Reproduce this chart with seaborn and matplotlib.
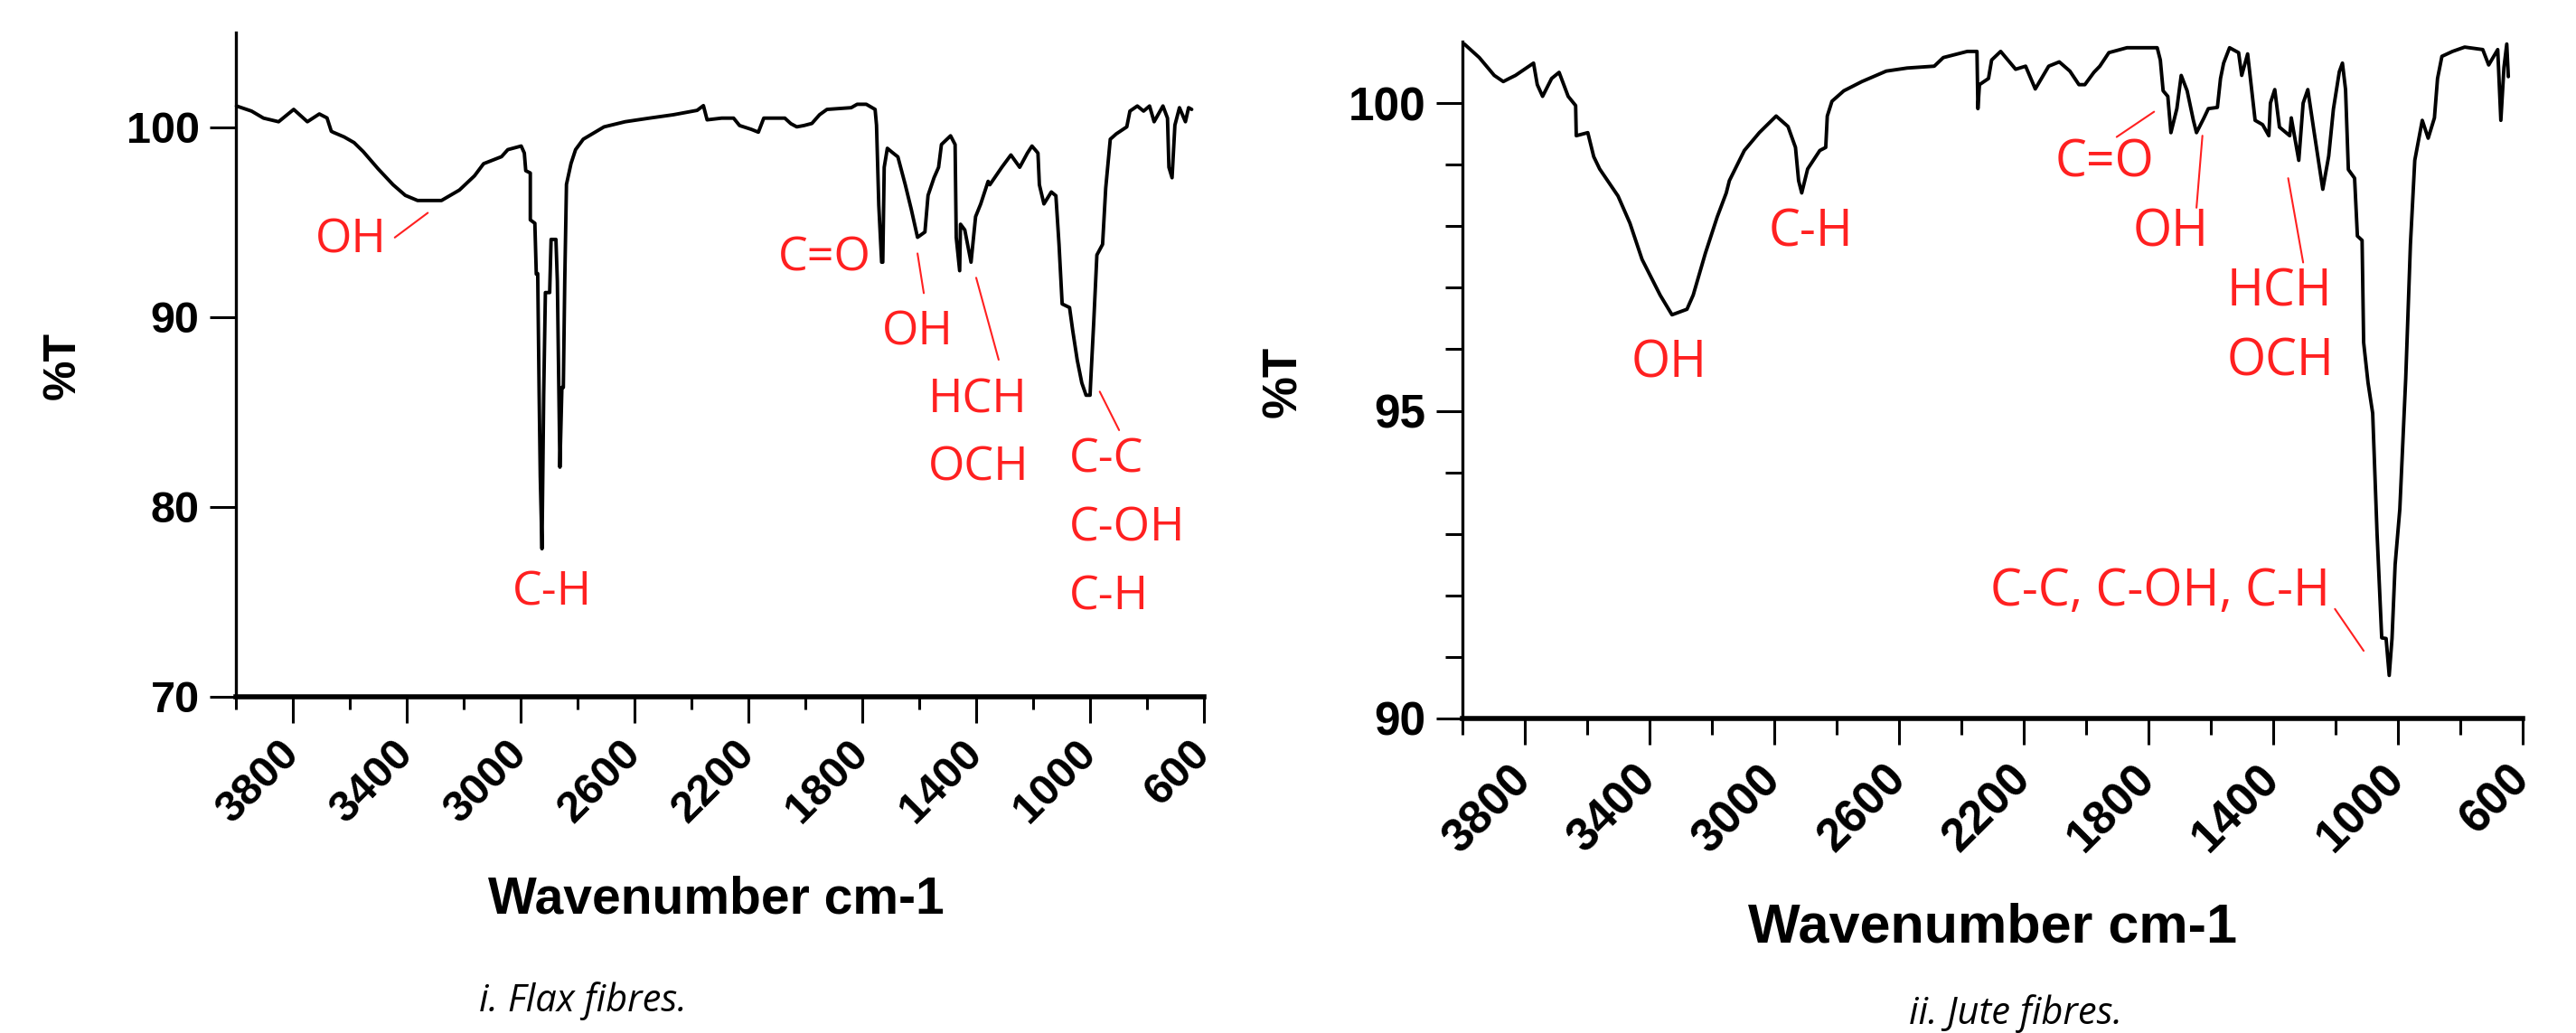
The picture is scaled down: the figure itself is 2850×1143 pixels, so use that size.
"""
FTIR spectra of flax and jute fibres - redrawn
"""
import numpy as np
import pandas as pd
import matplotlib
matplotlib.use('Agg')
import matplotlib.pyplot as plt
import seaborn as sns

sns.set_theme(style='ticks')
plt.rcParams['font.family'] = ['Liberation Sans', 'DejaVu Sans']
plt.rcParams['text.color'] = 'black'
plt.rcParams['axes.labelcolor'] = 'black'
plt.rcParams['axes.edgecolor'] = 'black'
plt.rcParams['xtick.color'] = 'black'
plt.rcParams['ytick.color'] = 'black'

# ============================================================
# data (wavenumber cm-1, %T)
# ============================================================
flax_wn = [3998, 3945, 3903, 3850, 3797, 3749, 3707, 3680, 3665, 3659, 3620, 3585, 3553, 3500,
           3448, 3405, 3362, 3278, 3215, 3162, 3130, 3067, 3045, 2998, 2987, 2982, 2966, 2966,
           2950, 2945, 2940, 2935, 2931, 2925, 2919, 2913, 2898, 2893, 2876, 2871, 2862, 2855,
           2850, 2845, 2839, 2823, 2807, 2780, 2707, 2633, 2548, 2463, 2380, 2358, 2345, 2294,
           2252, 2231, 2190, 2165, 2146, 2072, 2051, 2030, 2005, 1977, 1950, 1924, 1839, 1818,
           1786, 1755, 1750, 1742, 1732, 1728, 1723, 1712, 1696, 1675, 1649, 1628, 1606, 1580,
           1569, 1548, 1532, 1522, 1490, 1474, 1470, 1458, 1455, 1440, 1418, 1402, 1384, 1358,
           1352, 1310, 1278, 1247, 1220, 1204, 1183, 1178, 1162, 1136, 1120, 1109, 1098, 1072,
           1061, 1045, 1029, 1014, 1000, 998, 987, 976, 956, 945, 929, 908, 871, 860,
           834, 812, 791, 775, 744, 728, 723, 712, 702, 686, 665, 654, 643]
flax_t = [101.13, 100.86, 100.49, 100.30, 100.95, 100.30, 100.71, 100.5, 99.8, 99.75, 99.5, 99.20, 98.73, 97.81,
          96.98, 96.42, 96.15, 96.15, 96.70, 97.45, 98.09, 98.46, 98.83, 99.02, 98.65, 97.72, 97.6, 95.13,
          94.95, 92.27, 92.3, 86.0, 81.6, 77.8, 85.9, 91.3, 91.3, 94.1, 94.1, 91.9, 82.1, 86.3,
          86.3, 91.9, 97.0, 98.1, 98.83, 99.38, 100.03, 100.30, 100.49, 100.67, 100.9, 101.15, 100.4, 100.49,
          100.49, 100.1, 99.9, 99.75, 100.49, 100.49, 100.2, 100.03, 100.1, 100.21, 100.67, 100.95, 101.04, 101.22,
          101.22, 100.95, 100.12, 95.9, 92.9, 92.9, 97.9, 98.9, 98.7, 98.45, 96.98, 95.69, 94.21, 94.49,
          96.42, 97.35, 97.9, 99.1, 99.56, 99.1, 94.2, 92.45, 94.9, 94.6, 92.9, 95.3, 95.97, 97.16,
          96.98, 97.9, 98.55, 97.9, 98.65, 99.02, 98.65, 96.98, 95.97, 96.6, 96.4, 93.84, 90.7, 90.51,
          89.31, 87.74, 86.54, 85.89, 85.89, 86.54, 89.77, 93.28, 93.84, 96.8, 99.38, 99.66, 100.03, 100.86,
          101.13, 100.86, 101.13, 100.3, 101.13, 100.49, 97.9, 97.35, 100.12, 101.04, 100.3, 101.04, 100.95]

jute_wn = [3994, 3946, 3898, 3869, 3850, 3830, 3801, 3772, 3760, 3743, 3714, 3690, 3661, 3637, 3635,
           3598, 3579, 3560, 3501, 3463, 3424, 3366, 3328, 3280, 3260, 3221, 3183, 3154, 3144, 3096,
           3048, 2994, 2956, 2932, 2922, 2912, 2893, 2854, 2835, 2830, 2815, 2777, 2719, 2641, 2574,
           2487, 2458, 2381, 2350, 2347, 2342, 2313, 2303, 2274, 2226, 2194, 2163, 2120, 2086, 2052,
           2023, 2004, 1975, 1956, 1927, 1869, 1772, 1762, 1753, 1738, 1728, 1709, 1695, 1676, 1656,
           1646, 1622, 1608, 1579, 1569, 1559, 1540, 1511, 1501, 1482, 1458, 1434, 1414, 1409, 1395,
           1380, 1347, 1342, 1318, 1304, 1289, 1270, 1241, 1222, 1207, 1188, 1178, 1168, 1159, 1139,
           1130, 1115, 1110, 1096, 1081, 1067, 1052, 1038, 1028, 1019, 1009, 994, 975, 960, 946,
           922, 903, 883, 873, 859, 825, 786, 728, 709, 680, 670, 660, 651, 646]
jute_t = [100.96, 100.74, 100.45, 100.35, 100.4, 100.45, 100.55, 100.65, 100.3, 100.11, 100.4, 100.5, 100.11, 99.96, 99.47,
          99.52, 99.13, 98.93, 98.49, 98.05, 97.46, 96.88, 96.56, 96.65, 96.88, 97.56, 98.15, 98.54, 98.74, 99.23,
          99.52, 99.79, 99.62, 99.28, 98.74, 98.54, 98.93, 99.23, 99.28, 99.79, 100.03, 100.2, 100.35, 100.52, 100.57,
          100.6, 100.74, 100.84, 100.84, 99.91, 100.30, 100.4, 100.7, 100.84, 100.55, 100.6, 100.23, 100.6, 100.67, 100.52,
          100.30, 100.30, 100.50, 100.6, 100.82, 100.9, 100.9, 100.7, 100.2, 100.11, 99.52, 99.91, 100.45, 100.2, 99.72,
          99.52, 99.76, 99.91, 99.93, 100.4, 100.65, 100.9, 100.82, 100.45, 100.8, 99.72, 99.65, 99.47, 100.0, 100.22,
          99.61, 99.47, 99.76, 99.07, 100.0, 100.22, 99.57, 98.6, 99.14, 99.9, 100.51, 100.65, 100.22, 98.92, 98.78,
          97.84, 97.77, 96.11, 95.46, 94.96, 93.01, 91.31, 91.3, 90.7, 91.3, 92.5, 93.4, 95.53, 97.7, 99.07,
          99.72, 99.43, 99.76, 100.4, 100.76, 100.84, 100.91, 100.87, 100.62, 100.87, 99.72, 100.58, 100.96, 100.43]

x_major = [3800, 3400, 3000, 2600, 2200, 1800, 1400, 1000, 600]
x_minor = [4000, 3600, 3200, 2800, 2400, 2000, 1600, 1200, 800]
flax_yticks = [70, 80, 90, 100]
jute_yticks = [90, 95, 100]
jute_yminor = [91, 92, 93, 94, 96, 97, 98, 99]

# band labels: (text, wavenumber, %T, ha)
flax_labels = [('OH', 3597, 93.41, 'center'), ('C-H', 2889, 74.84, 'center'),
               ('C=O', 1933, 92.46, 'center'), ('OH', 1606, 88.57, 'center'),
               ('HCH', 1568, 84.96, 'left'), ('OCH', 1568, 81.40, 'left'),
               ('C-C', 1073, 81.82, 'left'), ('C-OH', 1073, 78.21, 'left'),
               ('C-H', 1073, 74.61, 'left')]
flax_leaders = [((3442, 3326), (94.2, 95.5)), ((1606, 1584), (93.36, 91.27)),
                ((1400, 1321), (92.08, 87.76)), ((966, 898), (86.08, 84.05))]
jute_labels = [('OH', 3336, 95.55, 'center'), ('C-H', 2884, 97.67, 'center'),
               ('C=O', 1942, 98.81, 'center'), ('OH', 1728, 97.68, 'center'),
               ('HCH', 1548, 96.70, 'left'), ('OCH', 1548, 95.57, 'left'),
               ('C-C, C-OH, C-H', 1217, 91.84, 'right')]
jute_leaders = [((1902, 1782), (99.45, 99.86)), ((1627, 1646), (99.47, 98.30)),
                ((1352, 1304), (98.78, 97.41)), ((1202, 1110), (91.78, 91.10))]

RED = '#ff2020'

fig = plt.figure(figsize=(28.5, 11.43), dpi=100)
ax1 = fig.add_axes([261 / 2850, 1 - 771 / 1143, 1071 / 2850, 735 / 1143])
ax2 = fig.add_axes([1618 / 2850, 1 - 795 / 1143, 1173 / 2850, 749 / 1143])


def draw_panel(ax, wn, t, ylim, yticks, yminor, labels, leaders, tick_fs, ann_fs, xpad, minor_len):
    df = pd.DataFrame({'wn': wn, 't': t})
    sns.lineplot(data=df, x='wn', y='t', sort=False, estimator=None, color='black',
                 linewidth=2.8, ax=ax, clip_on=False)
    ax.set_xlim(4000, 600)
    ax.set_ylim(*ylim)
    sns.despine(ax=ax)
    ax.spines['left'].set_linewidth(2.4)
    ax.spines['bottom'].set_linewidth(4.0)
    ax.set_xticks(x_major)
    ax.set_xticks(x_minor, minor=True)
    ax.set_xticklabels([str(v) for v in x_major], rotation=45, ha='right', va='center',
                       rotation_mode='anchor', fontweight='bold', fontsize=tick_fs)
    ax.set_yticks(yticks)
    ax.set_yticklabels([str(v) for v in yticks], fontweight='bold', fontsize=tick_fs)
    if yminor:
        ax.set_yticks(yminor, minor=True)
    ax.tick_params(axis='both', which='major', length=21, width=2.2, color='black')
    ax.tick_params(axis='x', which='minor', length=minor_len, width=2.2, color='black')
    ax.tick_params(axis='y', which='minor', length=14, width=2.2, color='black')
    ax.tick_params(axis='x', which='major', pad=xpad)
    ax.tick_params(axis='y', which='major', pad=8)
    for txt, x, y, ha in labels:
        ax.text(x, y, txt, color=RED, fontsize=ann_fs, ha=ha, va='baseline',
                family=['Open Sans', 'DejaVu Sans'])
    for xs, ys in leaders:
        ax.plot(xs, ys, color=RED, linewidth=1.5)
    ax.set_xlabel('Wavenumber cm-1', fontweight='bold')
    ax.set_ylabel('%T', fontweight='bold')


draw_panel(ax1, flax_wn, flax_t, (70, 105), flax_yticks, None, flax_labels, flax_leaders,
           35, 37.5, 19, 10)
draw_panel(ax2, jute_wn, jute_t, (90, 101), jute_yticks, jute_yminor, jute_labels, jute_leaders,
           37, 40, 22, 13)

ax1.xaxis.label.set_size(41)
ax1.yaxis.label.set_size(36)
ax1.xaxis.set_label_coords(0.496, -0.306)
ax1.yaxis.set_label_coords(-0.179, 0.498)
ax1.xaxis.label.set_va('center')
ax1.yaxis.label.set_va('center')

ax2.xaxis.label.set_size(44)
ax2.yaxis.label.set_size(38)
ax2.xaxis.set_label_coords(0.5004, -0.31)
ax2.yaxis.set_label_coords(-0.169, 0.498)
ax2.xaxis.label.set_va('center')
ax2.yaxis.label.set_va('center')

fig.text(645 / 2850, 1 - 1108 / 1143, 'i. Flax fibres.', fontsize=30, style='italic',
         ha='center', va='center', family=['Open Sans', 'DejaVu Sans'])
fig.text(2230 / 2850, 1 - 1122 / 1143, 'ii. Jute fibres.', fontsize=30, style='italic',
         ha='center', va='center', family=['Open Sans', 'DejaVu Sans'])

fig.savefig('out.png', dpi=100, facecolor='white')
plt.close(fig)
print("saved out.png")
